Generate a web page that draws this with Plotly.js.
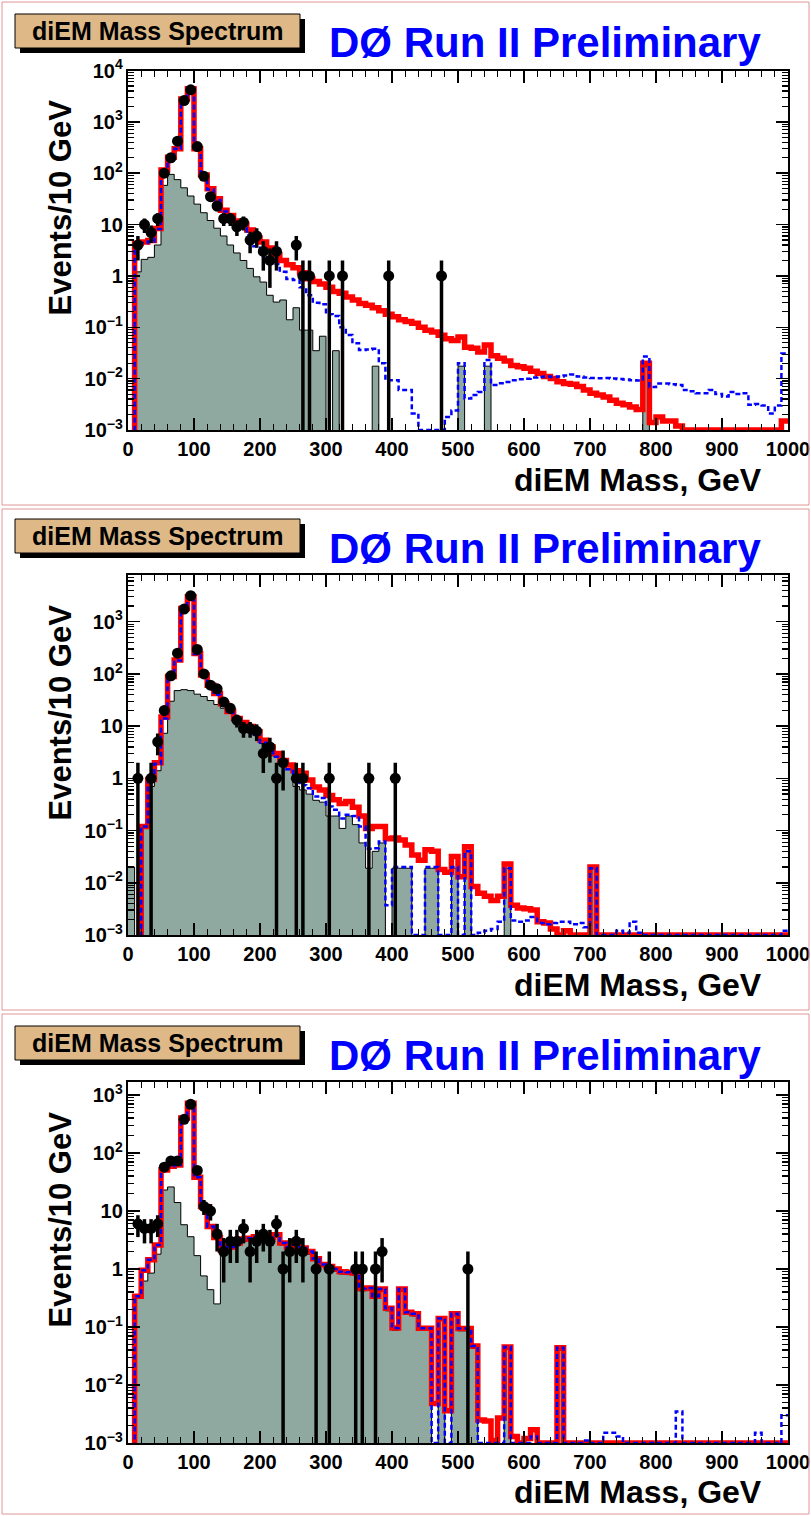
<!DOCTYPE html>
<html><head><meta charset="utf-8">
<script src="https://cdn.plot.ly/plotly-3.0.1.min.js"></script>
<style>html,body{margin:0;padding:0;background:#fff}#chart{width:811px;height:1516px}</style>
</head><body><div id="chart"></div>
<script>
// Histogram binning: diEM mass, 10 GeV bins from 0 to 1000 GeV
const binLow = 0, binWidth = 10, nBins = 100;
const xTickVals = [0,100,200,300,400,500,600,700,800,900,1000];

// ---------- Panel 1 ----------
const data1 = [
 0, 4, 10, 7, 13, 100, 200, 420, 2600, 4200,
 330, 87, 35, 23, 13, 13, 9, 11, 5, 6,
 3, 2, 3, 0, 0, 4, 1, 1, 0, 0,
 1, 0, 1, 0, 0, 0, 0, 0, 0, 1,
 0, 0, 0, 0, 0, 0, 0, 1, 0, 0,
 0, 0, 0, 0, 0, 0, 0, 0, 0, 0,
 0, 0, 0, 0, 0, 0, 0, 0, 0, 0,
 0, 0, 0, 0, 0, 0, 0, 0, 0, 0,
 0, 0, 0, 0, 0, 0, 0, 0, 0, 0,
 0, 0, 0, 0, 0, 0, 0, 0, 0, 0];
const red1 = [
 0, 4.3, 4.6, 4.9, 8.4, 115, 205, 300, 2800, 4400,
 300, 92, 50, 32, 19, 15, 11.8, 10.2, 7.8, 5.5,
 4.6, 3.5, 2.6, 2.0, 1.65, 1.45, 1.15, 0.88, 0.78, 0.7,
 0.6, 0.5, 0.46, 0.39, 0.34, 0.29, 0.27, 0.24, 0.21, 0.18,
 0.16, 0.14, 0.13, 0.12, 0.10, 0.088, 0.081, 0.07, 0.06, 0.055,
 0.065, 0.041, 0.039, 0.033, 0.045, 0.028, 0.025, 0.022, 0.018, 0.017,
 0.016, 0.014, 0.0126, 0.011, 0.0101, 0.0087, 0.008, 0.0078, 0.007, 0.006,
 0.0052, 0.0048, 0.0044, 0.0038, 0.0033, 0.0031, 0.0028, 0.0025, 0.02, 0.0014,
 0.0018, 0.0015, 0.0015, 0.0012, 0.001, 0.001, 0.001, 0.001, 0.001, 0.001,
 0.001, 0.001, 0.001, 0.001, 0.001, 0.001, 0.001, 0.001, 0.001, 0.0015];
const blue1 = [
 0, 4.3, 4.4, 4.7, 8.2, 110, 200, 300, 2700, 4300,
 300, 90, 48, 30, 18, 13, 10, 8.5, 6.2, 3.8,
 3.2, 2.3, 1.7, 1.2, 0.87, 0.83, 0.6, 0.42, 0.3, 0.28,
 0.18, 0.165, 0.10, 0.071, 0.049, 0.036, 0.037, 0.038, 0.020, 0.0093,
 0.0093, 0.006, 0.006, 0.0021, 0.001, 0.001, 0.001, 0.001, 0.0018, 0.0024,
 0.02, 0.0041, 0.0048, 0.0055, 0.023, 0.0075, 0.0081, 0.0086, 0.0093, 0.0097,
 0.010, 0.0105, 0.0108, 0.011, 0.0108, 0.011, 0.0115, 0.012, 0.011, 0.0105,
 0.0103, 0.0102, 0.0103, 0.0101, 0.0098, 0.0096, 0.0093, 0.0092, 0.027, 0.0069,
 0.008, 0.008, 0.0078, 0.0075, 0.006, 0.0057, 0.0052, 0.0052, 0.006, 0.005,
 0.0045, 0.0055, 0.005, 0.0052, 0.0031, 0.0032, 0.003, 0.0021, 0.003, 0.031];
const grey1 = [
 0, 1.2, 2.1, 2.3, 4.0, 58, 95, 75, 52, 36,
 25, 17, 12, 8.5, 6, 4, 2.8, 2.0, 1.4, 0.96,
 0.76, 0.42, 0.31, 0.34, 0.14, 0.24, 0.088, 0.088, 0.035, 0.067,
 0, 0.035, 0, 0, 0, 0, 0, 0.0175, 0, 0,
 0, 0, 0, 0, 0, 0, 0, 0, 0, 0,
 0.0175, 0, 0, 0, 0.0175, 0, 0, 0, 0, 0,
 0, 0, 0, 0, 0, 0, 0, 0, 0, 0,
 0, 0, 0, 0, 0, 0, 0, 0, 0.017, 0,
 0, 0, 0, 0, 0, 0, 0, 0, 0, 0,
 0, 0, 0, 0, 0, 0, 0, 0, 0, 0];

// ---------- Panel 2 ----------
const data2 = [
 0, 1, 0, 1, 5, 20, 92, 250, 1750, 3150,
 295, 100, 61, 52, 29, 22, 13, 9, 9, 8,
 3, 4, 1, 2, 0, 1, 1, 0, 0, 0,
 1, 0, 0, 0, 0, 0, 1, 0, 0, 0,
 1, 0, 0, 0, 0, 0, 0, 0, 0, 0,
 0, 0, 0, 0, 0, 0, 0, 0, 0, 0,
 0, 0, 0, 0, 0, 0, 0, 0, 0, 0,
 0, 0, 0, 0, 0, 0, 0, 0, 0, 0,
 0, 0, 0, 0, 0, 0, 0, 0, 0, 0,
 0, 0, 0, 0, 0, 0, 0, 0, 0, 0];
const red2 = [
 0, 0, 0.12, 0.95, 2.0, 15, 89, 185, 1800, 3000,
 246, 95, 61, 42, 27, 19, 14, 11.7, 9.8, 7.8,
 5.4, 4.0, 3.0, 2.2, 1.8, 1.4, 1.25, 0.93, 0.68, 0.6,
 0.47, 0.39, 0.33, 0.36, 0.28, 0.19, 0.11, 0.12, 0.12, 0.07,
 0.072, 0.066, 0.053, 0.034, 0.027, 0.043, 0.04, 0.018, 0.016, 0.032,
 0.013, 0.049, 0.0085, 0.0063, 0.0055, 0.0046, 0.0055, 0.023, 0.0037, 0.0033,
 0.0032, 0.003, 0.0018, 0.0017, 0.0013, 0.001, 0.0012, 0.001, 0.001, 0.001,
 0.02, 0.001, 0.001, 0.001, 0.001, 0.001, 0.001, 0.001, 0.001, 0.001,
 0.001, 0.001, 0.001, 0.001, 0.001, 0.001, 0.001, 0.001, 0.001, 0.001,
 0.001, 0.001, 0.001, 0.001, 0.001, 0.001, 0.001, 0.001, 0.001, 0.001];
const blue2 = [
 0, 0, 0.12, 0.9, 1.9, 14, 87, 180, 1750, 2950,
 240, 93, 58, 40, 26, 18, 13, 10.5, 8.8, 7,
 4.8, 3.6, 2.6, 1.9, 1.5, 1.1, 0.74, 0.65, 0.45, 0.42,
 0.29, 0.25, 0.17, 0.2, 0.19, 0.12, 0.045, 0.046, 0.062, 0.0037,
 0.02, 0.02, 0.02, 0.001, 0.001, 0.02, 0.02, 0.001, 0.001, 0.02,
 0.001, 0.04, 0.001, 0.0011, 0.0012, 0.0013, 0.0018, 0.019, 0.0019, 0.0018,
 0.0019, 0.0022, 0.0017, 0.0016, 0.0017, 0.0018, 0.0018, 0.0016, 0.0017, 0.0014,
 0.019, 0.001, 0.001, 0.001, 0.0012, 0.0011, 0.0018, 0.0011, 0.001, 0.001,
 0.001, 0.001, 0.001, 0.001, 0.001, 0.001, 0.001, 0.001, 0.001, 0.001,
 0.001, 0.001, 0.001, 0.001, 0.001, 0.001, 0.001, 0.001, 0.001, 0.0012];
const grey2 = [
 0.02, 0, 0.12, 0.7, 1.4, 7.3, 30, 48, 50, 48,
 41, 37, 31, 26, 22, 18, 14, 10.5, 8.5, 6.6,
 4.7, 3.7, 2.6, 2.1, 1.5, 0.7, 0.6, 0.5, 0.38, 0.35,
 0.19, 0.19, 0.11, 0.19, 0.13, 0.058, 0.019, 0.04, 0.058, 0,
 0.019, 0.019, 0.019, 0, 0, 0.019, 0.019, 0, 0, 0.019,
 0, 0.04, 0, 0, 0, 0, 0, 0.019, 0, 0,
 0, 0, 0, 0, 0, 0, 0, 0, 0, 0,
 0.019, 0, 0, 0, 0, 0, 0, 0, 0, 0,
 0, 0, 0, 0, 0, 0, 0, 0, 0, 0,
 0, 0, 0, 0, 0, 0, 0, 0, 0, 0];

// ---------- Panel 3 ----------
const data3 = [
 0, 6, 5, 5, 6, 57, 73, 73, 380, 690,
 50, 12, 10, 4, 2, 3, 3, 5, 2, 3,
 4, 3, 6, 1, 2, 3, 2, 0, 1, 0,
 1, 0, 0, 0, 1, 1, 0, 1, 2, 0,
 0, 0, 0, 0, 0, 0, 0, 0, 0, 0,
 0, 1, 0, 0, 0, 0, 0, 0, 0, 0,
 0, 0, 0, 0, 0, 0, 0, 0, 0, 0,
 0, 0, 0, 0, 0, 0, 0, 0, 0, 0,
 0, 0, 0, 0, 0, 0, 0, 0, 0, 0,
 0, 0, 0, 0, 0, 0, 0, 0, 0, 0];
const red3 = [
 0, 0.34, 0.95, 1.45, 2.6, 51, 59, 62, 400, 720,
 38, 12, 5.4, 3.5, 2.1, 2.4, 2.8, 3.3, 3.4, 3.6,
 3.6, 3.5, 3.9, 2.8, 2.4, 3.0, 2.3, 2.0, 1.5, 1.2,
 1.1, 1.0, 0.9, 0.88, 0.85, 0.46, 0.47, 0.34, 0.45, 0.21,
 0.096, 0.45, 0.18, 0.17, 0.095, 0.095, 0.0048, 0.14, 0.0036, 0.17,
 0.094, 0.094, 0.047, 0.0025, 0.0024, 0.0011, 0.0027, 0.045, 0.0013, 0.001,
 0.0012, 0.0017, 0.001, 0.001, 0.001, 0.044, 0.001, 0.001, 0.001, 0.001,
 0.001, 0.001, 0.001, 0.001, 0.001, 0.001, 0.001, 0.001, 0.001, 0.001,
 0.001, 0.001, 0.001, 0.001, 0.001, 0.001, 0.001, 0.001, 0.001, 0.001,
 0.001, 0.001, 0.001, 0.001, 0.001, 0.001, 0.001, 0.001, 0.001, 0.001];
const blue3 = [
 0, 0.34, 0.95, 1.45, 2.6, 51, 59, 62, 400, 720,
 38, 12, 5.4, 3.5, 2.1, 2.4, 2.8, 3.3, 3.4, 3.6,
 3.6, 3.5, 3.9, 2.8, 2.4, 3.0, 2.3, 2.0, 1.5, 1.2,
 1.1, 1.0, 0.9, 0.88, 0.85, 0.46, 0.47, 0.34, 0.45, 0.21,
 0.096, 0.45, 0.18, 0.17, 0.095, 0.095, 0.001, 0.14, 0.001, 0.17,
 0.094, 0.094, 0.047, 0.001, 0.001, 0.001, 0.001, 0.045, 0.001, 0.001,
 0.001, 0.0013, 0.001, 0.001, 0.001, 0.044, 0.001, 0.001, 0.001, 0.0011,
 0.001, 0.001, 0.0015, 0.0015, 0.0013, 0.001, 0.001, 0.001, 0.001, 0.001,
 0.001, 0.001, 0.001, 0.0035, 0.001, 0.001, 0.001, 0.001, 0.001, 0.001,
 0.001, 0.001, 0.001, 0.001, 0.001, 0.0015, 0.001, 0.001, 0.001, 0.003];
const grey3 = [
 0, 0.33, 0.62, 0.85, 1.8, 23, 26, 14, 5.8, 3.6,
 1.7, 0.76, 0.44, 0.25, 1.9, 2.2, 2.6, 3.0, 3.1, 3.3,
 3.3, 3.2, 3.5, 2.6, 2.2, 2.8, 2.1, 1.8, 1.4, 1.1,
 1.0, 0.92, 0.82, 0.8, 0.78, 0.42, 0.43, 0.31, 0.41, 0.19,
 0.088, 0.41, 0.165, 0.155, 0.087, 0.087, 0, 0.13, 0, 0.155,
 0.086, 0.086, 0.043, 0, 0, 0, 0, 0.041, 0, 0,
 0, 0, 0, 0, 0, 0.04, 0, 0, 0, 0,
 0, 0, 0, 0, 0, 0, 0, 0, 0, 0,
 0, 0, 0, 0, 0, 0, 0, 0, 0, 0,
 0, 0, 0, 0, 0, 0, 0, 0, 0, 0];

const panels = [
  {data: data1, red: red1, blue: blue1, grey: grey1},
  {data: data2, red: red2, blue: blue2, grey: grey2},
  {data: data3, red: red3, blue: blue3, grey: grey3}
];

const titleText = 'DØ Run II Preliminary';
const boxText = 'diEM Mass Spectrum';
const yTitle = 'Events/10 GeV';
const xTitle = 'diEM Mass, GeV';

// ---------- layout geometry (pixels) ----------
const W = 811, H = 1516;
const plotTop = [70.5, 575, 1082], plotBot = [430, 935, 1443];
const yRanges = [[-3, 4], [-3, 3.895], [-3, 3.224]];
const xL = 128, xR = 788;
const offs = [0, 505, 1012];
const frames = [[2, 505], [509, 1010], [1014, 1514]];
const px = v => v / W, py = v => 1 - v / H;
const FONT = 'Liberation Sans, Arial, Helvetica, sans-serif';

const edges = [];
for (let i = 0; i <= nBins; i++) edges.push(binLow + i * binWidth);
function stepY(vals) {
  const y = vals.map(v => v > 0 ? v : 1e-6);
  y.push(y[y.length - 1]);
  return y;
}

const traces = [];
const layout = {
  width: W, height: H, margin: {l: 0, r: 0, t: 0, b: 0},
  paper_bgcolor: '#ffffff', plot_bgcolor: '#ffffff', showlegend: false,
  shapes: [], annotations: []
};

panels.forEach((p, i) => {
  const sx = i ? String(i + 1) : '';
  const xa = 'x' + sx, ya = 'y' + sx;
  traces.push({x: edges, y: stepY(p.grey), xaxis: xa, yaxis: ya, type: 'scatter', mode: 'lines',
    line: {shape: 'hv', color: '#000000', width: 1}, fill: 'tozeroy', fillcolor: '#8fa9a1', hoverinfo: 'skip'});
  traces.push({x: edges, y: stepY(p.red), xaxis: xa, yaxis: ya, type: 'scatter', mode: 'lines',
    line: {shape: 'hv', color: '#ff0000', width: 5.5}, hoverinfo: 'skip'});
  traces.push({x: edges, y: stepY(p.blue), xaxis: xa, yaxis: ya, type: 'scatter', mode: 'lines',
    line: {shape: 'hv', color: '#0000ff', width: 2.5, dash: '5px,3px'}, hoverinfo: 'skip'});
  const dx = [], dy = [], de = [];
  p.data.forEach((n, k) => { if (n > 0) { dx.push(binLow + (k + 0.5) * binWidth); dy.push(n); de.push(Math.sqrt(n)); } });
  traces.push({x: dx, y: dy, xaxis: xa, yaxis: ya, type: 'scatter', mode: 'markers',
    marker: {size: 11, color: '#000000'},
    error_y: {type: 'data', array: de, visible: true, thickness: 3.5, width: 0, color: '#000000'}});

  layout['xaxis' + sx] = {
    domain: [px(xL), px(xR)], range: [0, 1000], anchor: ya,
    tickvals: xTickVals, ticks: 'inside', ticklen: 12, tickwidth: 1.5, tickcolor: '#000',
    minor: {ticks: 'inside', ticklen: 6, dtick: 20, tick0: 0, tickcolor: '#000', tickwidth: 1.2, showgrid: false},
    showline: true, linecolor: '#000', linewidth: 2, mirror: 'allticks',
    showgrid: false, zeroline: false,
    tickfont: {family: FONT, size: 20, color: '#000', weight: 'bold'}
  };
  layout['yaxis' + sx] = {
    domain: [py(plotBot[i]), py(plotTop[i])], type: 'log', range: yRanges[i], anchor: xa,
    dtick: 1, exponentformat: 'power', showexponent: 'all',
    ticks: 'inside', ticklen: 12, tickwidth: 1.5, tickcolor: '#000',
    minor: {ticks: 'inside', ticklen: 6, dtick: 'D1', tickcolor: '#000', tickwidth: 1.2, showgrid: false},
    showline: true, linecolor: '#000', linewidth: 2, mirror: 'allticks',
    showgrid: false, zeroline: false,
    tickfont: {family: FONT, size: 16, color: '#000', weight: 'bold'}
  };

  const o = offs[i];
  layout.shapes.push({type: 'rect', xref: 'paper', yref: 'paper', x0: px(2), x1: px(809),
    y0: py(frames[i][1]), y1: py(frames[i][0]), line: {color: 'rgb(225,150,150)', width: 1}});
  layout.shapes.push({type: 'rect', xref: 'paper', yref: 'paper', x0: px(20), x1: px(305),
    y0: py(o + 53), y1: py(o + 19), fillcolor: '#000', line: {width: 0}});
  layout.shapes.push({type: 'rect', xref: 'paper', yref: 'paper', x0: px(15), x1: px(300),
    y0: py(o + 48), y1: py(o + 14), fillcolor: '#deb887', line: {color: '#000', width: 1}});

  layout.annotations.push({text: boxText, xref: 'paper', yref: 'paper', x: px(157), y: py(o + 31),
    xanchor: 'center', yanchor: 'middle', showarrow: false,
    font: {family: FONT, size: 25, color: '#000', weight: 'bold'}});
  layout.annotations.push({text: titleText, xref: 'paper', yref: 'paper', x: px(545), y: py(o + 43),
    xanchor: 'center', yanchor: 'middle', showarrow: false,
    font: {family: FONT, size: 42, color: '#0000ff', weight: 'bold'}});
  layout.annotations.push({text: yTitle, xref: 'paper', yref: 'paper', x: px(60), y: py(o + 207.5),
    xanchor: 'center', yanchor: 'middle', textangle: -90, showarrow: false,
    font: {family: FONT, size: 31, color: '#000', weight: 'bold'}});
  layout.annotations.push({text: xTitle, xref: 'paper', yref: 'paper', x: px(764), y: py(o + 480),
    xanchor: 'right', yanchor: 'middle', showarrow: false,
    font: {family: FONT, size: 32, color: '#000', weight: 'bold'}});
});

Plotly.newPlot('chart', traces, layout, {staticPlot: true, displayModeBar: false});
</script>
</body></html>
